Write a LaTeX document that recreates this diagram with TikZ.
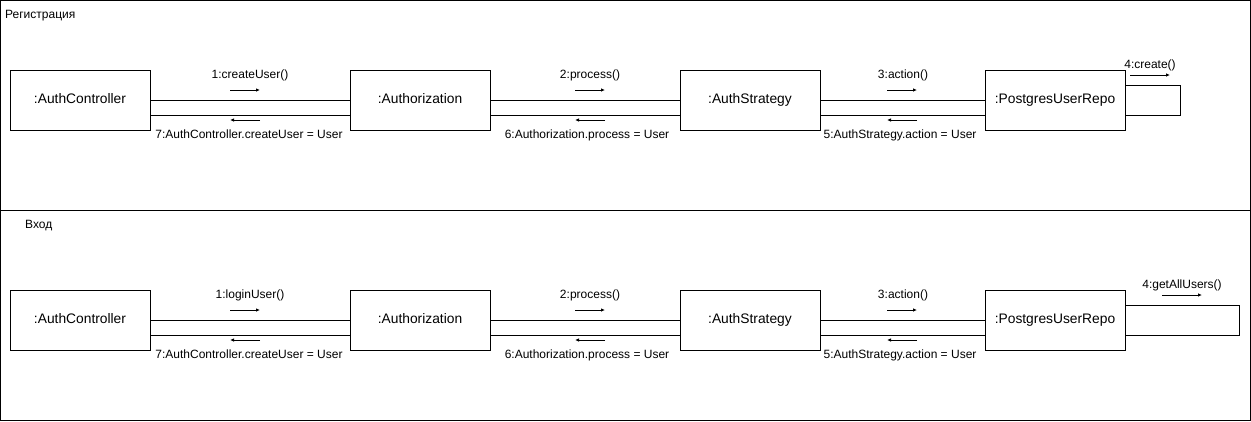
\documentclass[tikz,border=0pt]{standalone}
\usepackage{fontspec}
\setmainfont{Liberation Sans}
\usetikzlibrary{arrows.meta}

\begin{document}
\begin{tikzpicture}[x=1pt,y=-1pt,
    obj/.style={draw,line width=1pt,minimum width=140pt,minimum height=60pt,inner sep=0pt,text height=1.6ex,text depth=.4ex,font=\fontsize{13.8}{16}\selectfont},
    msg/.style={inner sep=0pt,text height=1.6ex,text depth=.4ex,font=\fontsize{12}{14}\selectfont},
    link/.style={line width=1pt},
    call/.style={line width=0.8pt,-{Latex[length=4pt,width=3.5pt]}}]
    \useasboundingbox (0,0) rectangle (1251,421);
    \draw[link] (0.5,0.5) rectangle (1250.5,210) rectangle (0.5,420.5);
    \foreach \oy/\sx/\sy/\title/\first/\fourth/\lw/\fx in {0/5/15/Регистрация/createUser/create/55/1150, 220/25/225/Вход/loginUser/getAllUsers/114/1182}{
        \node[msg,anchor=west] (title\oy) at (\sx,\sy) {\title};
        \node[obj] (ac\oy) at (80,100+\oy) {:AuthController};
        \node[obj] (az\oy) at (420,100+\oy) {:Authorization};
        \node[obj] (as\oy) at (750,100+\oy) {:AuthStrategy};
        \node[obj] (pr\oy) at (1055,100+\oy) {:PostgresUserRepo};
        % links between objects
        \draw[link] (ac\oy.east) -- (az\oy.west) (az\oy.east) -- (as\oy.west) (as\oy.east) -- (pr\oy.west);
        \draw[link] ([yshift=-15pt]ac\oy.east) -- ([yshift=-15pt]az\oy.west)
            ([yshift=-15pt]az\oy.east) -- ([yshift=-15pt]as\oy.west)
            ([yshift=-15pt]as\oy.east) -- ([yshift=-15pt]pr\oy.west);
        \draw[link] ([yshift=15pt]pr\oy.east) -- ++(\lw,0) -- ++(0,30) -- ([yshift=-15pt]pr\oy.east);
        % messages
        \node[msg] (m1\oy) at (250,75+\oy) {1:\first()};
        \node[msg] (m2\oy) at (590,75+\oy) {2:process()};
        \node[msg] (m3\oy) at (903,75+\oy) {3:action()};
        \node[msg] (m4\oy) at (\fx,65+\oy) {4:\fourth()};
        \node[msg] (m5\oy) at (900,135+\oy) {5:AuthStrategy.action = User};
        \node[msg] (m6\oy) at (587,135+\oy) {6:Authorization.process = User};
        \node[msg] (m7\oy) at (249,135+\oy) {7:AuthController.createUser = User};
        \draw[call] (230,90+\oy) -- (260,90+\oy);
        \draw[call] (575,90+\oy) -- (605,90+\oy);
        \draw[call] (887,90+\oy) -- (917,90+\oy);
        \draw[call] (\fx-20,75+\oy) -- (\fx+20,75+\oy);
        \draw[call] (917,120+\oy) -- (887,120+\oy);
        \draw[call] (605,120+\oy) -- (575,120+\oy);
        \draw[call] (260,120+\oy) -- (230,120+\oy);
    }
\end{tikzpicture}
\end{document}
